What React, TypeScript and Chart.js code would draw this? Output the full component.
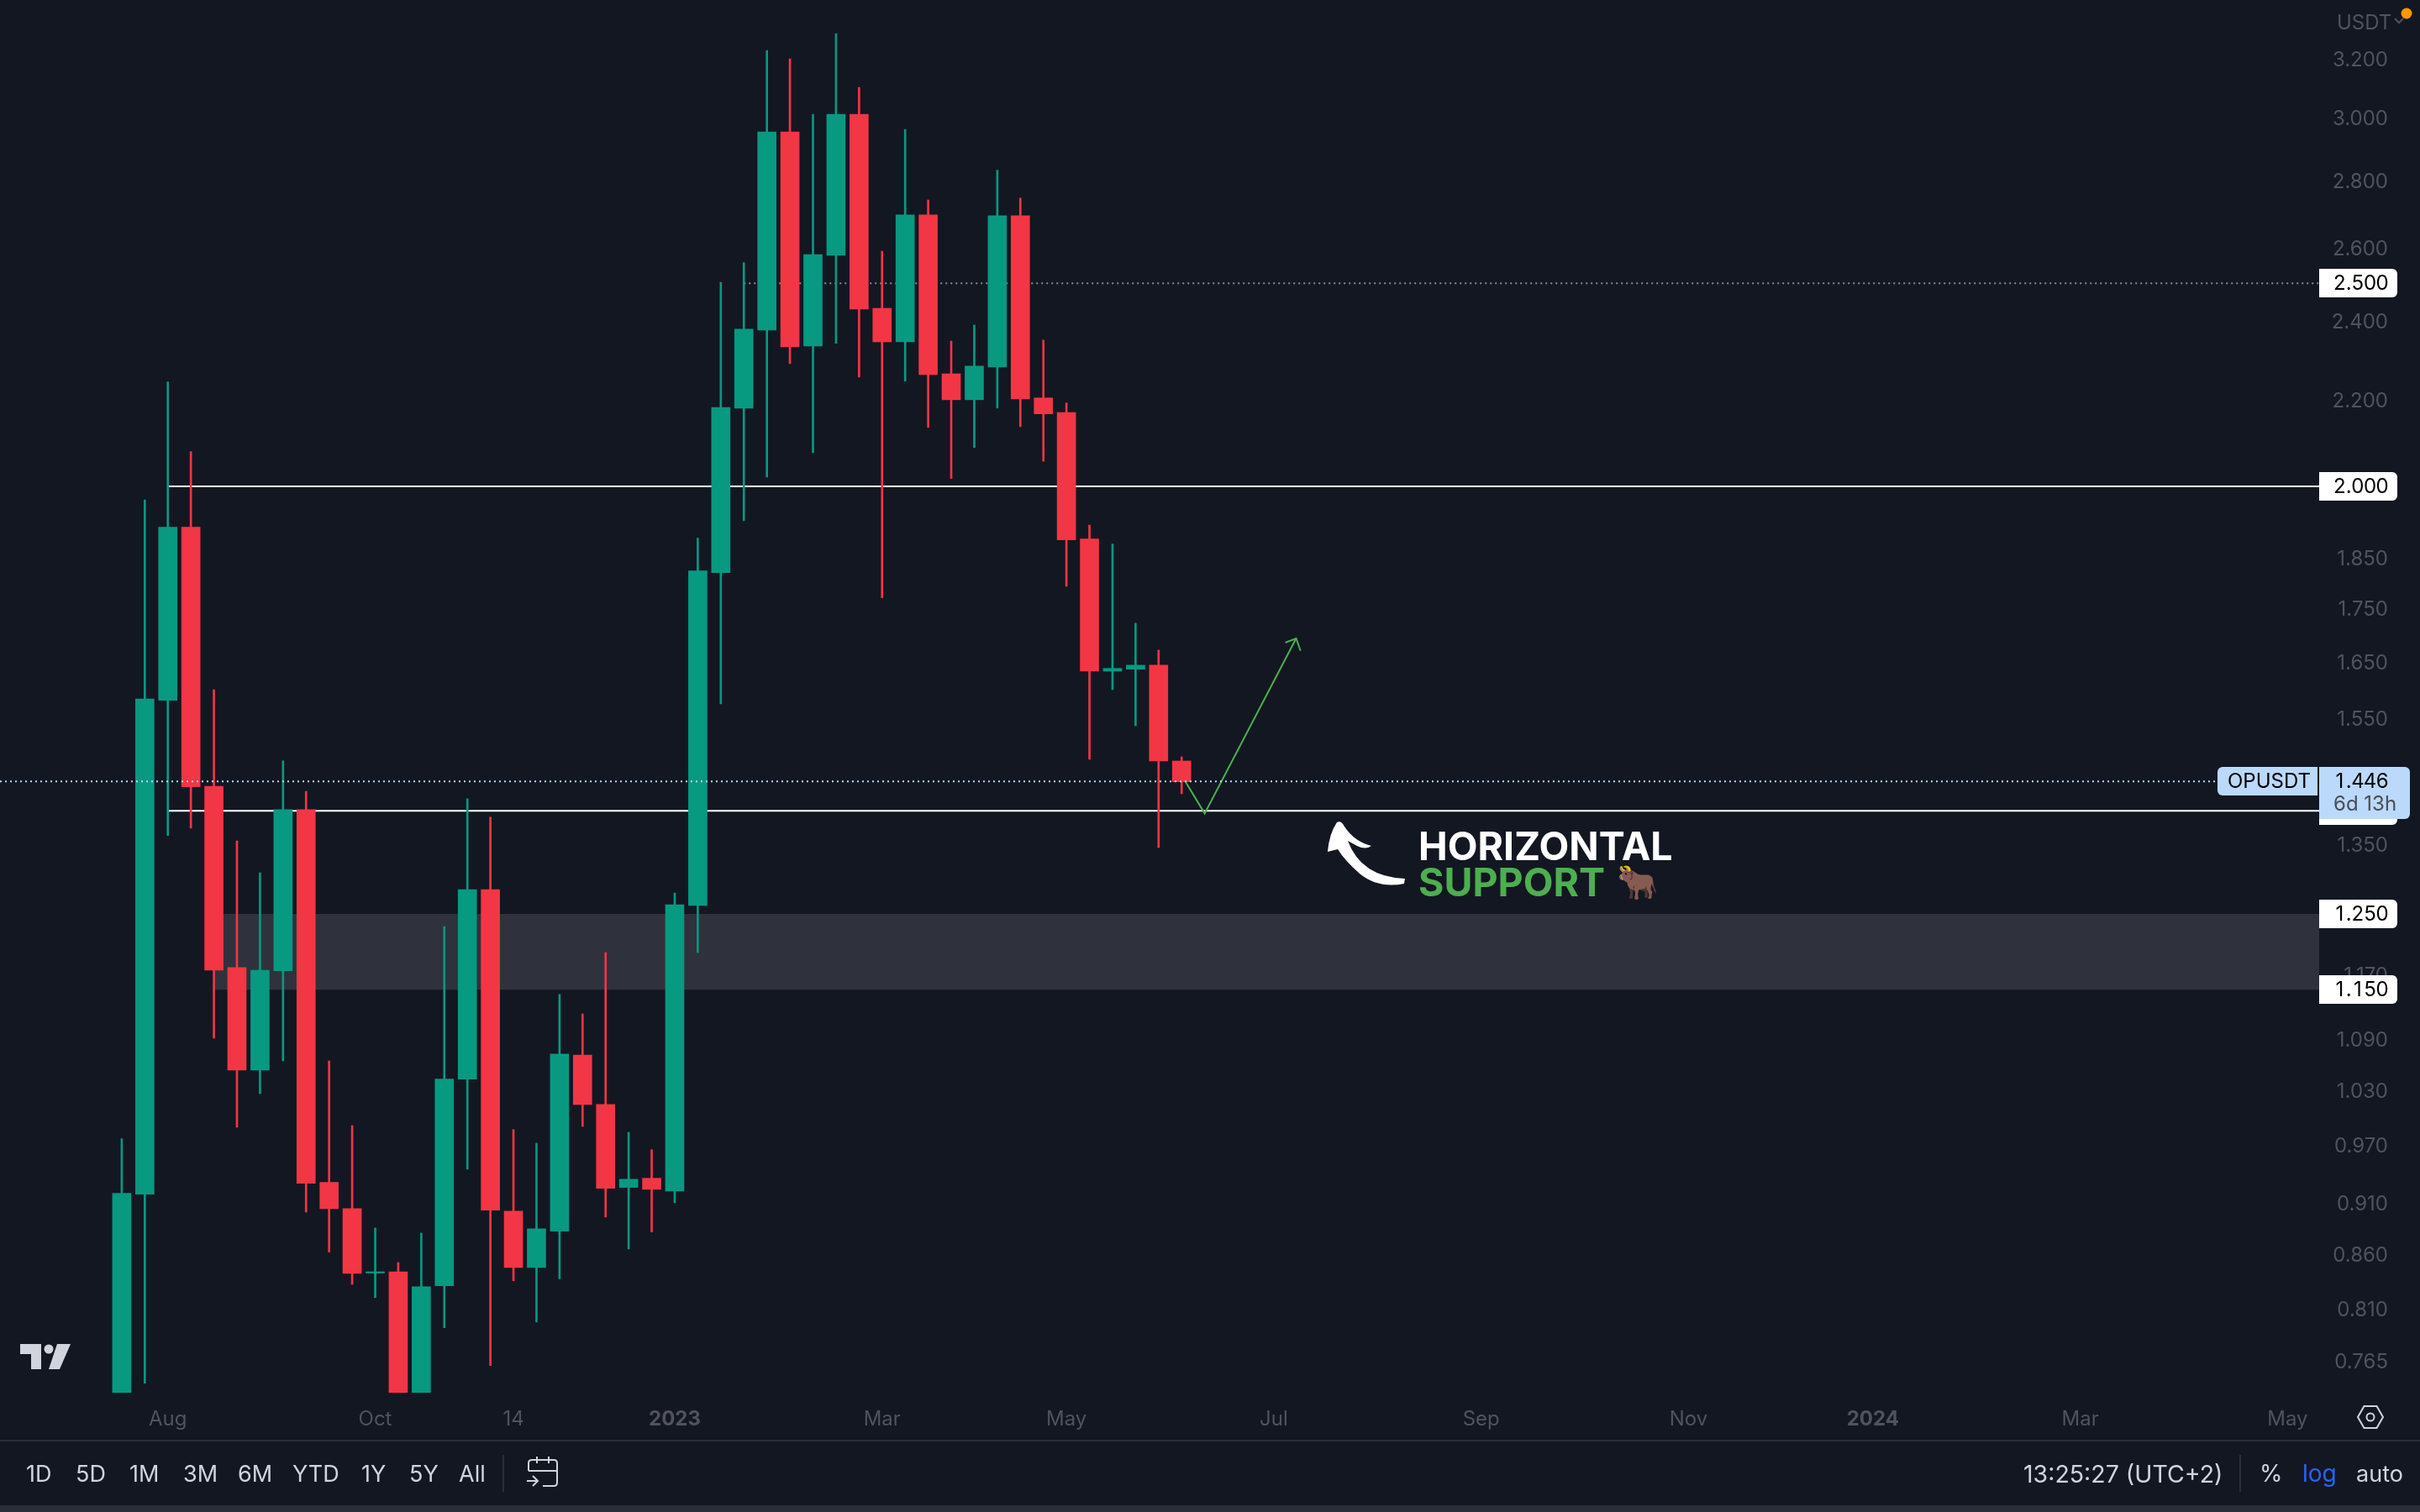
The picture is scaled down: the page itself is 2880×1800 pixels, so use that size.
import { useEffect, useRef } from 'react'
import { Chart, registerables } from 'chart.js'

Chart.register(...registerables)

// weekly OPUSDT candles
const opens = [0.71, 0.9185, 1.581, 1.9122, 1.4381, 1.1784, 1.0528, 1.1742, 1.4019, 0.9306, 0.904, 0.8423, 0.8435, 0.72, 0.8305, 1.0424, 1.2839, 0.9016, 0.8474, 0.882, 1.0704, 1.0137, 0.9254, 0.9348, 0.9218, 1.2616, 1.8189, 2.1793, 2.3748, 2.9529, 2.3334, 2.5781, 3.0108, 2.4324, 2.3442, 2.6955, 2.2634, 2.1997, 2.2804, 2.6928, 2.2042, 2.1692, 1.8875, 1.6323, 1.6358, 1.6431, 1.4788]
const highs = [0.9763, 1.9706, 2.2432, 2.0777, 1.5995, 1.3545, 1.3078, 1.4791, 1.4304, 1.0635, 0.9905, 0.8851, 0.8521, 0.8802, 1.2328, 1.4188, 1.3901, 0.9861, 0.9715, 1.1441, 1.1199, 1.198, 0.9832, 0.9646, 1.2792, 1.8892, 2.5031, 2.5575, 3.2296, 3.1999, 3.0108, 3.2898, 3.101, 2.5901, 2.9611, 2.7401, 2.3463, 2.388, 2.8309, 2.7457, 2.3488, 2.192, 1.9168, 1.8771, 1.7206, 1.6705, 1.4856]
const lows = [0.69, 0.7462, 1.3625, 1.3735, 1.0904, 0.9887, 1.0259, 1.0635, 0.9007, 0.8619, 0.8319, 0.8198, 0.7, 0.7, 0.7932, 0.9441, 0.7609, 0.8352, 0.7981, 0.8369, 0.9896, 0.8957, 0.8649, 0.8811, 0.9099, 1.198, 1.5746, 1.9257, 2.0204, 2.2886, 2.0756, 2.3405, 2.2554, 1.7694, 2.2453, 2.1335, 2.0174, 2.0871, 2.1793, 2.1357, 2.0561, 1.7919, 1.4815, 1.5995, 1.5372, 1.3446, 1.4265]
const closes = [0.9195, 1.5833, 1.9122, 1.4375, 1.175, 1.0528, 1.175, 1.4019, 0.9296, 0.904, 0.842, 0.8435, 0.72, 0.8297, 1.0424, 1.2839, 0.9026, 0.8474, 0.8842, 1.0715, 1.0137, 0.9245, 0.9338, 0.9235, 1.2627, 1.8224, 2.1813, 2.3772, 2.9529, 2.3313, 2.5805, 3.0108, 2.4302, 2.3442, 2.6955, 2.2613, 2.1997, 2.2827, 2.6928, 2.2019, 2.1659, 1.8856, 1.6323, 1.6373, 1.6431, 1.4788, 1.4454]

const priceTicks = [3.2, 3, 2.8, 2.6, 2.4, 2.2, 1.85, 1.75, 1.65, 1.55, 1.35, 1.17, 1.09, 1.03, 0.97, 0.91, 0.86, 0.81, 0.765]
const timeTickIndexes = [2, 11, 17, 24, 33, 41, 50, 59, 68, 76, 85, 94]
const timeTickLabels = ['Aug', 'Oct', '14', '2023', 'Mar', 'May', 'Jul', 'Sep', 'Nov', '2024', 'Mar', 'May']

const priceTags = [2.5, 2, 1.4, 1.25, 1.15]
const lastPrice = 1.446
const zoneTop = 1.25
const zoneBottom = 1.15
const zoneStart = 4.015

const ideaX = [46.17, 47, 50.97]
const ideaY = [1.4454, 1.396, 1.6922]
const arrowHeadX = [50.5, 50.97, 51.16]
const arrowHeadY = [1.6844, 1.6922, 1.6693]

const rangeButtons = ['1D', '5D', '1M', '3M', '6M', 'YTD', '1Y', '5Y', 'All']
const rangeButtonX = [31, 90, 154, 218, 283, 348, 430, 487, 546]

const BG = '#131722'
const UP = '#089981'
const DOWN = '#f23645'
const AXIS_TEXT = '#50535e'
const TOOL_TEXT = '#d1d4dc'
const LINE_GREEN = '#4caf50'
const FONT = 'Inter, "Liberation Sans", sans-serif'

const X_MIN = -5.284
const X_MAX = 95.37
const Y_MIN = 0.73846
const Y_MAX = 3.41358

const roundedTag = (ctx: CanvasRenderingContext2D, x: number, y: number, w: number, h: number, radii: number[], fill: string) => {
  ctx.fillStyle = fill
  ctx.beginPath()
  ctx.roundRect(x, y, w, h, radii)
  ctx.fill()
}

const text = (ctx: CanvasRenderingContext2D, s: string, x: number, y: number, font: string, color: string, align: CanvasTextAlign = 'left') => {
  ctx.font = font
  ctx.fillStyle = color
  ctx.textAlign = align
  ctx.textBaseline = 'middle'
  ctx.fillText(s, x, y)
}

// the tags use tabular digits in the reference, canvas has no switch for that
const priceText = (ctx: CanvasRenderingContext2D, s: string, y: number) => {
  let x = 2777
  for (const ch of s) {
    const w = ch === '.' ? 7 : 14.6
    text(ctx, ch, x + w / 2, y, `24px ${FONT}`, '#000000', 'center')
    x += w
  }
}

const tradingPlugin = {
  id: 'trading',
  beforeDraw(chart: any) {
    const { ctx, width, height } = chart
    ctx.save()
    ctx.fillStyle = BG
    ctx.fillRect(0, 0, width, height)
    ctx.restore()
  },
  beforeDatasetsDraw(chart: any) {
    const { ctx, scales, chartArea } = chart
    const top = scales.y.getPixelForValue(zoneTop)
    const bottom = scales.y.getPixelForValue(zoneBottom)
    const left = scales.x.getPixelForValue(zoneStart)
    ctx.save()
    ctx.fillStyle = '#2f323c'
    ctx.fillRect(left, top, chartArea.right - left, bottom - top)
    ctx.restore()
  },
  afterDraw(chart: any) {
    const { ctx, scales } = chart
    ctx.save()

    // price axis tags
    priceTags.forEach(p => {
      const y = Math.round(scales.y.getPixelForValue(p))
      roundedTag(ctx, 2760, y - 17, 93, 34, [0, 6, 6, 0], '#ffffff')
      priceText(ctx, p.toFixed(3), y + 1)
    })
    const lastY = Math.round(scales.y.getPixelForValue(lastPrice))
    roundedTag(ctx, 2639, lastY - 17, 119, 34, [6, 0, 0, 6], '#bbd9fb')
    text(ctx, 'OPUSDT', 2651, lastY + 1, `24px ${FONT}`, '#000000')
    roundedTag(ctx, 2760, lastY - 17, 108, 62, [0, 6, 6, 0], '#bbd9fb')
    priceText(ctx, lastPrice.toFixed(3), lastY + 1)
    text(ctx, '6d 13h', 2777, lastY + 28, `24px ${FONT}`, '#4a4e58')

    text(ctx, 'USDT', 2781, 28, `24px ${FONT}`, AXIS_TEXT)
    ctx.strokeStyle = AXIS_TEXT
    ctx.lineWidth = 2
    ctx.beginPath()
    ctx.moveTo(2850, 22)
    ctx.lineTo(2855, 27)
    ctx.lineTo(2860, 22)
    ctx.stroke()
    ctx.fillStyle = '#ff9800'
    ctx.beginPath()
    ctx.arc(2864, 16, 6.5, 0, Math.PI * 2)
    ctx.fill()

    // annotation next to the support line
    text(ctx, 'HORIZONTAL', 1688, 1010, `700 46.5px ${FONT}`, '#ffffff')
    text(ctx, 'SUPPORT', 1688, 1053, `700 46.5px ${FONT}`, LINE_GREEN)
    text(ctx, '🐂', 1924, 1052, `40px "Noto Color Emoji", ${FONT}`, '#9c6b45')

    ctx.fillStyle = '#ffffff'
    ctx.beginPath()
    ctx.moveTo(1591, 979)
    ctx.quadraticCurveTo(1596, 976, 1600, 984)
    ctx.quadraticCurveTo(1612, 1002, 1632, 1007)
    ctx.quadraticCurveTo(1625, 1012, 1615, 1007)
    ctx.lineTo(1604, 1001)
    ctx.quadraticCurveTo(1620, 1044, 1672, 1046)
    ctx.lineTo(1671, 1052)
    ctx.quadraticCurveTo(1640, 1058, 1618, 1040)
    ctx.quadraticCurveTo(1600, 1024, 1592, 1011)
    ctx.lineTo(1580, 1014)
    ctx.quadraticCurveTo(1582, 992, 1591, 979)
    ctx.fill()

    // TV logo
    ctx.fillStyle = TOOL_TEXT
    ctx.beginPath()
    ctx.moveTo(24, 1600)
    ctx.lineTo(49, 1600)
    ctx.lineTo(49, 1630)
    ctx.lineTo(37, 1630)
    ctx.lineTo(37, 1612)
    ctx.lineTo(24, 1612)
    ctx.closePath()
    ctx.moveTo(68, 1600)
    ctx.lineTo(84, 1600)
    ctx.lineTo(71, 1630)
    ctx.lineTo(58, 1630)
    ctx.closePath()
    ctx.fill()
    ctx.beginPath()
    ctx.arc(58, 1606, 5.5, 0, Math.PI * 2)
    ctx.fill()

    // separators and bottom toolbar
    ctx.fillStyle = '#2a2e39'
    ctx.fillRect(0, 1714, 2880, 2)
    ctx.fillRect(0, 1792, 2880, 8)
    ctx.fillRect(598, 1732, 2, 44)
    ctx.fillRect(2665, 1732, 2, 44)

    rangeButtons.forEach((label, i) => {
      text(ctx, label, rangeButtonX[i], 1756, `27px ${FONT}`, TOOL_TEXT)
    })
    text(ctx, '13:25:27 (UTC+2)', 2408, 1756, `28.5px ${FONT}`, TOOL_TEXT)
    text(ctx, '%', 2689, 1756, `28px ${FONT}`, TOOL_TEXT)
    text(ctx, 'log', 2740, 1756, `28px ${FONT}`, '#2962ff')
    text(ctx, 'auto', 2804, 1756, `27px ${FONT}`, TOOL_TEXT)

    // calendar icon
    ctx.strokeStyle = TOOL_TEXT
    ctx.lineWidth = 2
    ctx.beginPath()
    ctx.moveTo(629, 1751)
    ctx.lineTo(629, 1742)
    ctx.quadraticCurveTo(629, 1738, 633, 1738)
    ctx.lineTo(659, 1738)
    ctx.quadraticCurveTo(663, 1738, 663, 1742)
    ctx.lineTo(663, 1765)
    ctx.quadraticCurveTo(663, 1769, 659, 1769)
    ctx.lineTo(646, 1769)
    ctx.moveTo(629, 1751)
    ctx.lineTo(663, 1751)
    ctx.moveTo(639, 1734)
    ctx.lineTo(639, 1742)
    ctx.moveTo(653, 1734)
    ctx.lineTo(653, 1742)
    ctx.moveTo(627, 1763)
    ctx.lineTo(640, 1763)
    ctx.moveTo(634, 1757)
    ctx.lineTo(640, 1763)
    ctx.lineTo(634, 1769)
    ctx.stroke()

    // settings icon
    ctx.beginPath()
    ctx.moveTo(2806, 1687)
    ctx.lineTo(2813.5, 1674)
    ctx.lineTo(2828.5, 1674)
    ctx.lineTo(2836, 1687)
    ctx.lineTo(2828.5, 1700)
    ctx.lineTo(2813.5, 1700)
    ctx.closePath()
    ctx.moveTo(2825.5, 1687)
    ctx.arc(2821, 1687, 4.5, 0, Math.PI * 2)
    ctx.stroke()

    ctx.restore()
  }
}

export default function App() {
  const ref = useRef<HTMLCanvasElement>(null)

  useEffect(() => {
    document.body.style.margin = '0'
    if (!ref.current) return
    const candleColors = closes.map((c, i) => (c >= opens[i] ? UP : DOWN))
    const flat = (value: number) => [{ x: X_MIN, y: value }, { x: X_MAX, y: value }]

    const chart = new Chart(ref.current, {
      type: 'bar',
      data: {
        datasets: [
          {
            type: 'line', order: 0, data: flat(lastPrice), borderColor: '#bbd9fb', borderWidth: 2,
            borderDash: [2, 4], pointRadius: 0
          },
          {
            type: 'line', order: 0, data: ideaX.map((x, i) => ({ x, y: ideaY[i] })), borderColor: LINE_GREEN,
            borderWidth: 2, pointRadius: 0
          },
          {
            type: 'line', order: 0, data: arrowHeadX.map((x, i) => ({ x, y: arrowHeadY[i] })), borderColor: LINE_GREEN,
            borderWidth: 2, pointRadius: 0
          },
          {
            type: 'bar', order: 1, grouped: false, barThickness: 22,
            data: opens.map((o, i) => ({ x: i, y: [o, closes[i]] })),
            backgroundColor: candleColors, borderSkipped: false
          },
          {
            type: 'bar', order: 2, grouped: false, barThickness: 2,
            data: lows.map((l, i) => ({ x: i, y: [l, highs[i]] })),
            backgroundColor: candleColors, borderSkipped: false
          },
          {
            type: 'line', order: 3, data: [{ x: 2, y: 2 }, { x: X_MAX, y: 2 }], borderColor: '#ffffff',
            borderWidth: 2, pointRadius: 0
          },
          {
            type: 'line', order: 3, data: [{ x: 2, y: 1.4 }, { x: X_MAX, y: 1.4 }], borderColor: '#ffffff',
            borderWidth: 2, pointRadius: 0
          },
          {
            type: 'line', order: 3, data: [{ x: 27, y: 2.5 }, { x: X_MAX, y: 2.5 }], borderColor: '#8a8c93',
            borderWidth: 2, borderDash: [2, 4], pointRadius: 0
          }
        ] as any
      },
      options: {
        animation: false,
        responsive: false,
        devicePixelRatio: 1,
        events: [],
        // right padding leaves room so the right aligned price ticks end at 2842
        layout: { padding: { left: 0, right: 38, top: 0, bottom: 85 } },
        plugins: { legend: { display: false }, tooltip: { enabled: false } },
        scales: {
          x: {
            type: 'linear',
            offset: false,
            min: X_MIN,
            max: X_MAX,
            grid: { display: false, drawTicks: false },
            border: { display: false },
            afterBuildTicks: (axis: any) => {
              axis.ticks = timeTickIndexes.map(value => ({ value }))
            },
            afterFit: (axis: any) => {
              axis.height = 57
              axis.paddingLeft = 0
              axis.paddingRight = 0
            },
            ticks: {
              autoSkip: false,
              maxRotation: 0,
              padding: 17,
              color: AXIS_TEXT,
              font: (c: any) => ({
                family: FONT,
                size: 24,
                weight: timeTickLabels[c.index]?.length === 4 ? 'bold' : 'normal'
              }),
              callback: (_v: any, i: number) => timeTickLabels[i]
            }
          },
          y: {
            type: 'logarithmic',
            position: 'right',
            bounds: 'data',
            beginAtZero: false,
            min: Y_MIN,
            max: Y_MAX,
            grid: { display: false, drawTicks: false },
            border: { display: false },
            afterBuildTicks: (axis: any) => {
              axis.ticks = priceTicks.map(value => ({ value }))
            },
            afterFit: (axis: any) => {
              axis.width = 82
              axis.paddingTop = 0
              axis.paddingBottom = 0
            },
            ticks: {
              autoSkip: false,
              crossAlign: 'far',
              labelOffset: 2,
              color: AXIS_TEXT,
              font: { family: FONT, size: 24 },
              callback: (v: any) => Number(v).toFixed(3)
            }
          }
        }
      } as any,
      plugins: [tradingPlugin]
    })
    return () => chart.destroy()
  }, [])

  return <canvas ref={ref} width={2880} height={1800} style={{ display: 'block', width: 2880, height: 1800 }} />
}
